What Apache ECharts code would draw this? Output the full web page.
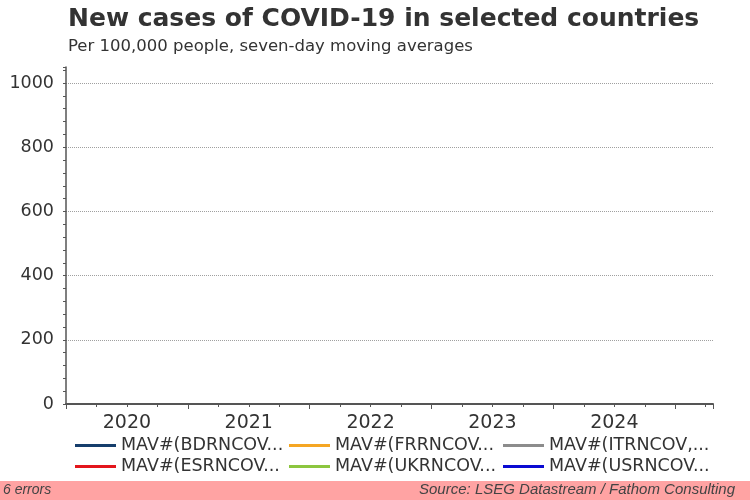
<!DOCTYPE html>
<html>
<head>
<meta charset="utf-8">
<script src="https://cdn.jsdelivr.net/npm/echarts@6/dist/echarts.min.js"></script>
<style>
html, body { margin: 0; padding: 0; background: #fff; }
#main { width: 750px; height: 500px; }
</style>
</head>
<body>
<div id="main"></div>
<script>
// series names as shown (truncated) in the legend, in legend order
var seriesNames = ['MAV#(BDRNCOV...', 'MAV#(FRRNCOV...', 'MAV#(ITRNCOV,...',
                   'MAV#(ESRNCOV...', 'MAV#(UKRNCOV...', 'MAV#(USRNCOV...'];
var seriesColors = ['#163e6c', '#f5a623', '#8c8c8c', '#e3161c', '#8cc63f', '#0a0ad2'];
// every series came back empty (the chart shows "6 errors")
var seriesData = [[], [], [], [], [], []];
var yearLabels = [2020, 2021, 2022, 2023, 2024];

var chartDom = document.getElementById('main');
var myChart = echarts.init(chartDom);
var option;

var font = 'Liberation Sans, Arial, sans-serif';
var wide = 'DejaVu Sans, sans-serif';
var clear = 'rgba(255,255,255,0)';

option = {
    backgroundColor: '#fff',
    animation: false,
    title: {
        text: 'New cases of COVID-19 in selected countries',
        subtext: 'Per 100,000 people, seven-day moving averages',
        left: 63,
        top: 2,
        itemGap: 6,
        textStyle: { fontFamily: wide, fontSize: 25, fontWeight: 'bold', color: '#333' },
        subtextStyle: { fontFamily: wide, fontSize: 16.5, color: '#333' }
    },
    legend: {
        left: 75,
        top: 435,
        width: 660,
        padding: 0,
        itemWidth: 41,
        itemHeight: 3,
        itemGap: 0,
        icon: 'rect',
        textStyle: {
            fontFamily: wide, fontSize: 17.5, color: '#333',
            width: 168, overflow: 'truncate', lineHeight: 21
        },
        data: seriesNames
    },
    grid: { left: 66, right: 37, top: 67, bottom: 96 },
    xAxis: [{
        type: 'value',
        min: 2020,
        max: 2025.31,
        interval: 0.25,
        axisLine: { lineStyle: { color: '#555', width: 2 } },
        axisTick: { length: 3, lineStyle: { color: '#555' } },
        splitLine: { show: false },
        axisLabel: {
            margin: 10,
            fontFamily: wide, fontSize: 19, color: '#333',
            formatter: function (v) {
                var f = v - Math.floor(v);
                if (Math.abs(f - 0.5) < 1e-6 && yearLabels.indexOf(Math.floor(v)) >= 0) return String(Math.floor(v));
                return '';
            }
        }
    }, {
        // year boundary ticks, a little longer
        type: 'value',
        position: 'bottom',
        min: 2020,
        max: 2025.31,
        interval: 1,
        axisLine: { show: false },
        axisTick: { length: 5, lineStyle: { color: '#555' } },
        axisLabel: { show: false },
        splitLine: { show: false }
    }],
    yAxis: {
        type: 'value',
        min: 0,
        max: 1050,
        interval: 40,
        axisLine: { show: true, lineStyle: { color: '#555', width: 1.5 } },
        axisTick: { length: 3, lineStyle: { color: '#555' } },
        axisLabel: {
            margin: 12,
            fontFamily: wide, fontSize: 17.5, color: '#333',
            formatter: function (v) { return v % 200 === 0 ? String(v) : ''; }
        },
        splitLine: {
            show: true,
            // one dotted gridline every 200 (every fifth tick)
            lineStyle: { type: 'dotted', color: ['#a0a0a0', clear, clear, clear, clear] }
        }
    },
    series: seriesNames.map(function (name, i) {
        return {
            name: name,
            type: 'line',
            showSymbol: false,
            xAxisIndex: 0,
            lineStyle: { width: 2, color: seriesColors[i] },
            itemStyle: { color: seriesColors[i] },
            data: seriesData[i]
        };
    }),
    graphic: [{
        type: 'rect',
        left: 0, top: 481,
        shape: { width: 750, height: 19 },
        style: { fill: '#ffa3a3' },
        silent: true
    }, {
        type: 'text',
        left: 3, top: 483,
        style: { text: '6 errors', font: 'italic 14px ' + font, fill: '#444' }
    }, {
        type: 'text',
        right: 15, top: 482,
        style: { text: 'Source: LSEG Datastream / Fathom Consulting', font: 'italic 15px ' + font, fill: '#444' }
    }]
};

option && myChart.setOption(option);
</script>
</body>
</html>
